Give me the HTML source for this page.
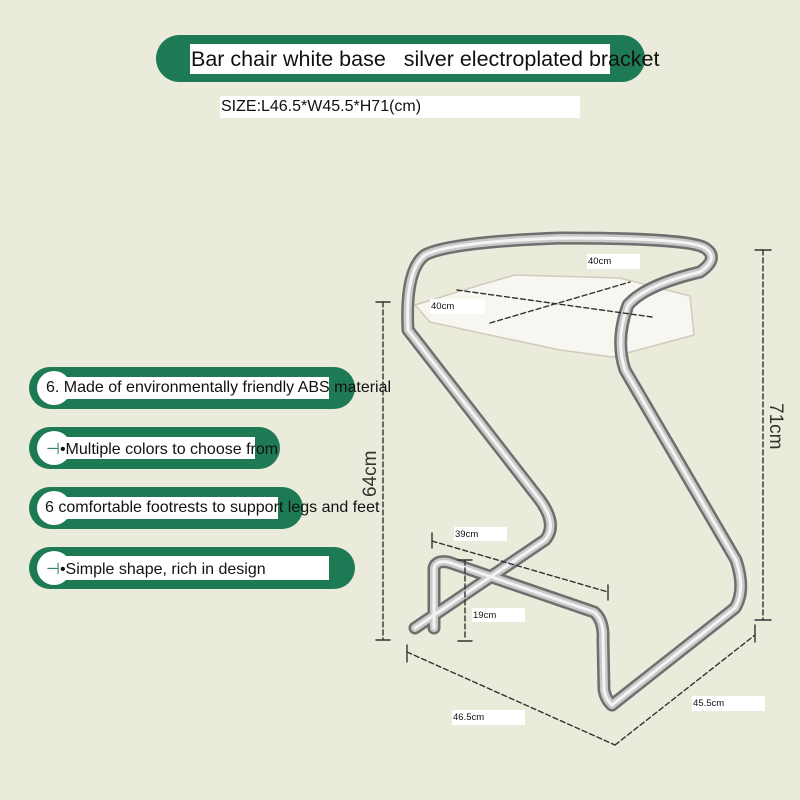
<!DOCTYPE html>
<html><head><meta charset="utf-8"><style>
body{margin:0;width:800px;height:800px;background:#ebebdb;position:relative;overflow:hidden;font-family:"Liberation Sans",sans-serif;}
.abs{position:absolute}
.pill{position:absolute;background:#1e7a55;border-radius:22px}
.circ{position:absolute;background:#fff;border-radius:50%}
.wb{position:absolute;background:#fff}
.t{position:absolute;white-space:nowrap;color:#111}
</style></head><body>
<div class="pill" style="left:156px;top:35px;width:489px;height:47px;border-radius:24px"></div>
<div class="wb" style="left:190px;top:44px;width:420px;height:30px"></div>
<div class="t" style="left:191px;top:47px;font-size:21.5px">Bar chair white base &nbsp; silver electroplated bracket</div>
<div class="wb" style="left:220px;top:96px;width:360px;height:22px"></div>
<div class="t" style="left:221px;top:98px;font-size:16px">SIZE:L46.5*W45.5*H71(cm)</div>

<div class="pill" style="left:29px;top:367px;width:326px;height:42px"></div>
<div class="circ" style="left:37px;top:371px;width:34px;height:34px"></div>
<div class="wb" style="left:50px;top:377px;width:279px;height:22px"></div>
<div class="t" style="left:46px;top:379px;font-size:16px">6. Made of environmentally friendly ABS material</div>

<div class="pill" style="left:29px;top:427px;width:251px;height:42px"></div>
<div class="circ" style="left:37px;top:431px;width:34px;height:34px"></div>
<div class="wb" style="left:50px;top:437px;width:205px;height:22px"></div>
<div class="t" style="left:46px;top:439px;font-size:16px"><span style="color:#1e7a55">⊣</span>•Multiple colors to choose from</div>

<div class="pill" style="left:29px;top:487px;width:274px;height:42px"></div>
<div class="circ" style="left:37px;top:491px;width:34px;height:34px"></div>
<div class="wb" style="left:50px;top:497px;width:228px;height:22px"></div>
<div class="t" style="left:45px;top:499px;font-size:16px">6 comfortable footrests to support legs and feet</div>

<div class="pill" style="left:29px;top:547px;width:326px;height:42px"></div>
<div class="circ" style="left:37px;top:551px;width:34px;height:34px"></div>
<div class="wb" style="left:50px;top:556px;width:279px;height:24px"></div>
<div class="t" style="left:46px;top:559px;font-size:16px"><span style="color:#1e7a55">⊣</span>•Simple shape, rich in design</div>

<svg class="abs" style="left:0;top:0" width="800" height="800">
<g fill="none" stroke-linecap="round" stroke-linejoin="round">
<path d="M415,305 L480,285 L515,275 L620,278 L690,296 L694,335 L612,357 L560,350 L480,333 L430,322 Z" fill="#f7f6f0" stroke="#cfcbbd" stroke-width="1.5"/>
<g stroke="#6f6f6f" stroke-width="13">
<path d="M612,705 L735,608 Q746,590 736,560 L625,370 Q615,340 628,305 Q645,285 700,272 Q720,258 705,248 Q690,238 560,238 Q450,242 425,255 Q405,270 408,330 L540,500 Q558,525 545,540 L415,628"/>
<path d="M434,628 L434,568 Q436,560 448,562 L594,612 Q604,620 603,640 L604,690 Q606,700 612,705"/>
</g>
<g stroke="#c9c9c9" stroke-width="8">
<path d="M612,705 L735,608 Q746,590 736,560 L625,370 Q615,340 628,305 Q645,285 700,272 Q720,258 705,248 Q690,238 560,238 Q450,242 425,255 Q405,270 408,330 L540,500 Q558,525 545,540 L415,628"/>
<path d="M434,628 L434,568 Q436,560 448,562 L594,612 Q604,620 603,640 L604,690 Q606,700 612,705"/>
</g>
<g stroke="#f4f4f4" stroke-width="3">
<path d="M612,705 L735,608 Q746,590 736,560 L625,370 Q615,340 628,305 Q645,285 700,272 Q720,258 705,248 Q690,238 560,238 Q450,242 425,255 Q405,270 408,330 L540,500 Q558,525 545,540 L415,628"/>
<path d="M434,628 L434,568 Q436,560 448,562 L594,612 Q604,620 603,640 L604,690 Q606,700 612,705"/>
</g>
<g stroke="#333" stroke-width="1.4" stroke-dasharray="5,3">
<line x1="763" y1="250" x2="763" y2="620"/>
<line x1="383" y1="302" x2="383" y2="640"/>
<line x1="407" y1="652" x2="615" y2="745"/>
<line x1="615" y1="745" x2="755" y2="635"/>
<line x1="432" y1="541" x2="608" y2="592"/>
<line x1="465" y1="560" x2="465" y2="640"/>
<line x1="457" y1="290" x2="652" y2="317"/>
<line x1="490" y1="323" x2="630" y2="282"/>
</g>
<g stroke="#333" stroke-width="1.4">
<line x1="755" y1="250" x2="771" y2="250"/><line x1="755" y1="620" x2="771" y2="620"/>
<line x1="376" y1="302" x2="390" y2="302"/><line x1="376" y1="640" x2="390" y2="640"/>
<line x1="407" y1="645" x2="407" y2="662"/><line x1="755" y1="625" x2="755" y2="642"/>
<line x1="432" y1="533" x2="432" y2="548"/><line x1="608" y1="585" x2="608" y2="600"/>
<line x1="458" y1="560" x2="472" y2="560"/><line x1="458" y1="641" x2="472" y2="641"/>
</g>
</g>
<text x="0" y="0" transform="translate(376,497) rotate(-90)" font-size="19" fill="#333" font-family="Liberation Sans">64cm</text>
<text x="0" y="0" transform="translate(770,403) rotate(90)" font-size="19" fill="#333" font-family="Liberation Sans">71cm</text>
</svg>
<div class="wb" style="left:587px;top:254px;width:53px;height:15px"></div><div class="t" style="left:588px;top:256px;font-size:9.5px">40cm</div>
<div class="wb" style="left:430px;top:299px;width:55px;height:15px"></div><div class="t" style="left:431px;top:301px;font-size:9.5px">40cm</div>
<div class="wb" style="left:454px;top:527px;width:53px;height:14px"></div><div class="t" style="left:455px;top:529px;font-size:9.5px">39cm</div>
<div class="wb" style="left:472px;top:608px;width:53px;height:14px"></div><div class="t" style="left:473px;top:610px;font-size:9.5px">19cm</div>
<div class="wb" style="left:452px;top:710px;width:73px;height:15px"></div><div class="t" style="left:453px;top:712px;font-size:9.5px">46.5cm</div>
<div class="wb" style="left:692px;top:696px;width:73px;height:15px"></div><div class="t" style="left:693px;top:698px;font-size:9.5px">45.5cm</div>
</body></html>
